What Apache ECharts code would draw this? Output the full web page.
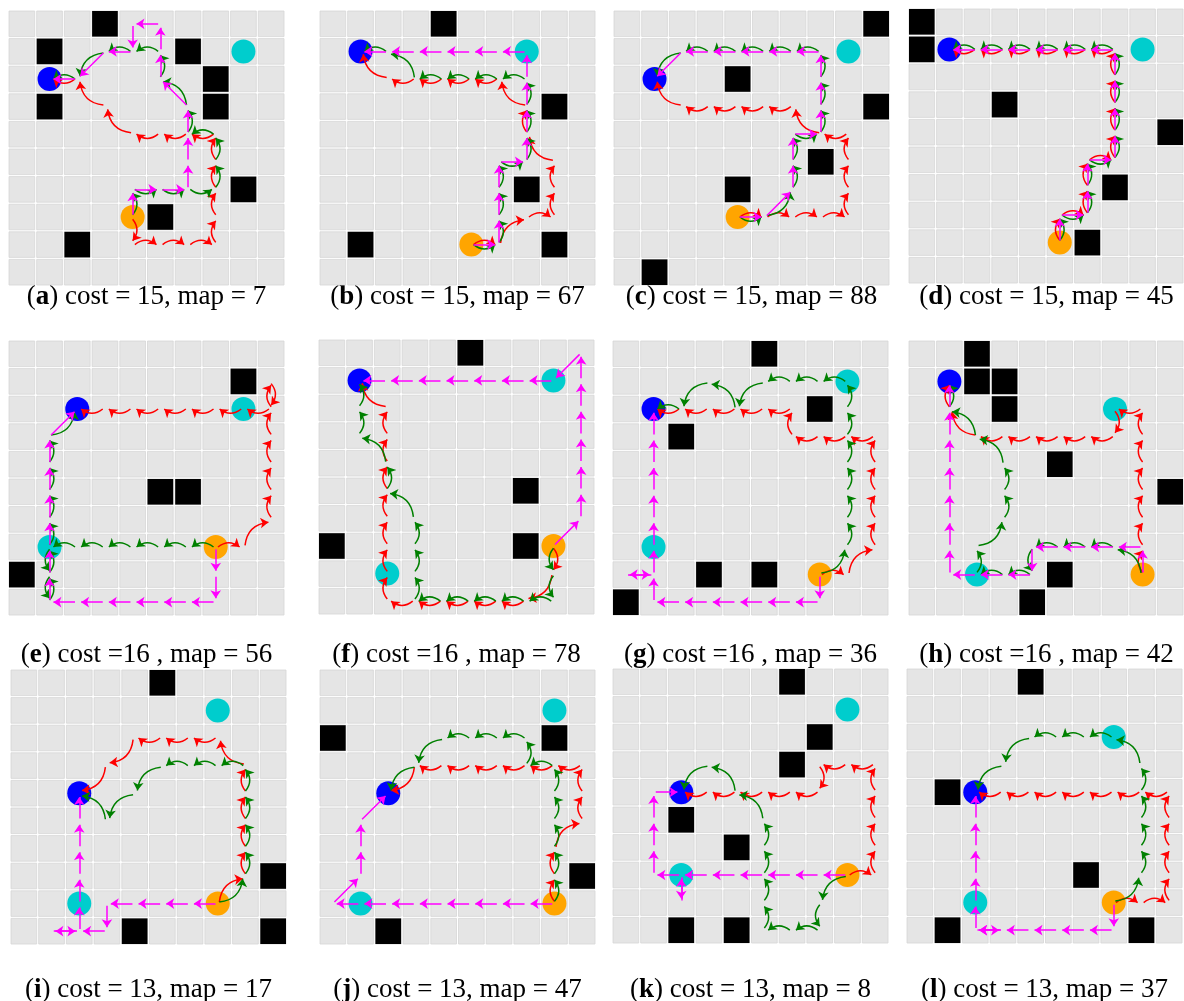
<!DOCTYPE html>
<html><head><meta charset="utf-8">
<script src="https://cdn.jsdelivr.net/npm/echarts@6/dist/echarts.min.js"></script>
<style>html,body{margin:0;background:#fff}#c{width:1184px;height:1001px}</style>
</head><body><div id="c"></div>
<script>
// ---------------- data ----------------
const panelIds = ['a','b','c','d','e','f','g','h','i','j','k','l'];
const captions = [
  'cost = 15, map = 7','cost = 15, map = 67','cost = 15, map = 88','cost = 15, map = 45',
  'cost =16 , map = 56','cost =16 , map = 78','cost =16 , map = 36','cost =16 , map = 42',
  'cost = 13, map = 17','cost = 13, map = 47','cost = 13, map = 8','cost = 13, map = 37'
];
// cells are [column, row], row 0 at the top
const obstacles = [
  [[3,0],[1,1],[6,1],[7,2],[7,3],[1,3],[8,6],[5,7],[2,8]],
  [[4,0],[8,3],[7,6],[1,8],[8,8]],
  [[9,0],[4,2],[9,3],[7,5],[4,6],[1,9]],
  [[0,0],[0,1],[3,3],[9,4],[7,6],[6,8]],
  [[8,1],[5,5],[6,5],[0,8]],
  [[5,0],[7,5],[0,7],[7,7]],
  [[5,0],[7,2],[2,3],[3,8],[5,8],[0,9]],
  [[2,0],[2,1],[3,1],[3,2],[5,4],[9,5],[5,8],[4,9]],
  [[5,0],[9,7],[4,9],[9,9]],
  [[0,2],[8,2],[9,7],[2,9]],
  [[6,0],[7,2],[6,3],[2,5],[4,6],[2,9],[4,9]],
  [[4,0],[1,4],[6,7],[1,9],[8,9]]
];
const blueCells = [[1,2],[1,1],[1,2],[1,1],[2,2],[1,1],[1,2],[1,1],[2,4],[2,4],[2,4],[2,4]];
const cyanCells = [
  [[8,1]],[[7,1]],[[8,1]],[[8,1]],
  [[8,2],[1,7]],[[8,1],[2,8]],[[8,1],[1,7]],[[7,2],[2,8]],
  [[7,1],[2,8]],[[8,1],[1,8]],[[8,1],[2,7]],[[7,2],[2,8]]
];
const orangeCells = [[4,7],[5,8],[4,7],[5,8],[7,7],[8,7],[7,8],[8,8],[7,8],[8,8],[8,7],[7,8]];

const magentaPaths = [
  [[4,7],[4,6],[5,6],[6,6],[6,5],[6,4],[6,3],[5,2],[5,1],[5,0],[4,0],[4,1],[3,1],[2,2],[1,2]],
  [[5,8],[6,8],[6,7],[6,6],[6,5],[7,5],[7,4],[7,3],[7,2],[7,1],[6,1],[5,1],[4,1],[3,1],[2,1],[1,1]],
  [[4,7],[5,7],[6,6],[6,5],[6,4],[7,4],[7,3],[7,2],[7,1],[6,1],[5,1],[4,1],[3,1],[2,1],[1,2]],
  [[5,8],[5,7],[6,7],[6,6],[6,5],[7,5],[7,4],[7,3],[7,2],[7,1],[6,1],[5,1],[4,1],[3,1],[2,1],[1,1]],
  [[7,7],[7,8],[7,9],[6,9],[5,9],[4,9],[3,9],[2,9],[1,9],[1,8],[1,7],[1,6],[1,5],[1,4],[1,3],[2,2]],
  [[8,7],[9,6],[9,5],[9,4],[9,3],[9,2],[9,1],[9,0],[8,1],[7,1],[6,1],[5,1],[4,1],[3,1],[2,1],[1,1]],
  [[7,8],[7,9],[6,9],[5,9],[4,9],[3,9],[2,9],[1,9],[1,8],[0,8],[1,8],[1,7],[1,6],[1,5],[1,4],[1,3],[1,2]],
  [[8,8],[8,7],[7,7],[6,7],[5,7],[4,7],[4,8],[3,8],[2,8],[1,8],[1,7],[1,6],[1,5],[1,4],[1,3],[1,2],[1,1]],
  [[7,8],[6,8],[5,8],[4,8],[3,8],[3,9],[2,9],[1,9],[2,9],[2,8],[2,7],[2,6],[2,5],[2,4]],
  [[8,8],[7,8],[6,8],[5,8],[4,8],[3,8],[2,8],[1,8],[0,8],[1,7],[1,6],[1,5],[2,4]],
  [[8,7],[7,7],[6,7],[5,7],[4,7],[3,7],[2,7],[2,8],[2,7],[1,7],[1,6],[1,5],[1,4],[2,4]],
  [[7,8],[7,9],[6,9],[5,9],[4,9],[3,9],[2,9],[3,9],[2,9],[2,8],[2,7],[2,6],[2,5],[2,4]]
];
const greenPaths = [
  [[4,7],[4,6],[5,6],[6,6],[7,6],[7,5],[7,4],[6,4],[6,3],[5,2],[5,1],[4,1],[3,1],[2,2],[1,2]],
  [[5,8],[6,8],[6,7],[6,6],[6,5],[7,5],[7,4],[7,3],[7,2],[6,2],[5,2],[4,2],[3,2],[2,1],[1,1]],
  [[4,7],[5,7],[6,6],[6,5],[6,4],[7,4],[7,3],[7,2],[7,1],[6,1],[5,1],[4,1],[3,1],[2,1],[1,2]],
  [[5,8],[5,7],[6,7],[6,6],[6,5],[7,5],[7,4],[7,3],[7,2],[7,1],[6,1],[5,1],[4,1],[3,1],[2,1],[1,1]],
  [[7,7],[6,7],[5,7],[4,7],[3,7],[2,7],[1,7],[1,8],[1,9],[1,8],[1,7],[1,6],[1,5],[1,4],[1,3],[2,2]],
  [[8,7],[8,8],[8,9],[7,9],[6,9],[5,9],[4,9],[3,9],[3,8],[3,7],[3,6],[2,5],[2,4],[1,3],[1,2],[1,1]],
  [[7,8],[8,7],[8,6],[8,5],[8,4],[8,3],[8,2],[8,1],[7,1],[6,1],[5,1],[4,2],[3,1],[2,2],[1,2]],
  [[8,8],[7,7],[6,7],[5,7],[4,7],[4,8],[3,8],[2,8],[2,7],[3,6],[3,5],[3,4],[2,3],[1,2],[1,1]],
  [[7,8],[8,7],[8,6],[8,5],[8,4],[8,3],[7,3],[6,3],[5,3],[4,4],[3,5],[2,4]],
  [[8,8],[8,7],[8,6],[8,5],[8,4],[8,3],[7,3],[7,2],[6,2],[5,2],[4,2],[3,3],[2,4]],
  [[8,7],[7,8],[7,9],[6,9],[5,9],[5,8],[5,7],[5,6],[5,5],[4,4],[3,3],[2,4]],
  [[7,8],[8,7],[8,6],[8,5],[8,4],[8,3],[7,2],[6,2],[5,2],[4,2],[3,3],[2,4]]
];
const redPaths = [
  [[4,7],[4,8],[5,8],[6,8],[7,8],[7,7],[7,6],[7,5],[7,4],[6,4],[5,4],[4,4],[3,3],[2,2],[1,2]],
  [[5,8],[6,8],[7,7],[8,7],[8,6],[8,5],[7,4],[7,3],[6,2],[5,2],[4,2],[3,2],[2,2],[1,1]],
  [[4,7],[5,7],[6,7],[7,7],[8,7],[8,6],[8,5],[8,4],[7,4],[6,3],[5,3],[4,3],[3,3],[2,3],[1,2]],
  [[5,8],[5,7],[6,7],[6,6],[6,5],[7,5],[7,4],[7,3],[7,2],[7,1],[6,1],[5,1],[4,1],[3,1],[2,1],[1,1]],
  [[7,7],[8,7],[9,6],[9,5],[9,4],[9,3],[9,2],[9,1],[9,2],[8,2],[7,2],[6,2],[5,2],[4,2],[3,2],[2,2]],
  [[8,7],[8,8],[7,9],[6,9],[5,9],[4,9],[3,9],[2,9],[2,8],[2,7],[2,6],[2,5],[2,4],[2,3],[2,2],[1,1]],
  [[7,8],[8,8],[9,7],[9,6],[9,5],[9,4],[9,3],[8,3],[7,3],[6,3],[6,2],[5,2],[4,2],[3,2],[2,2],[1,2]],
  [[8,8],[8,7],[8,6],[8,5],[8,4],[8,3],[8,2],[7,2],[7,3],[6,3],[5,3],[4,3],[3,3],[2,3],[1,2],[1,1]],
  [[7,8],[8,7],[8,6],[8,5],[8,4],[8,3],[7,2],[6,2],[5,2],[4,2],[3,3],[2,4]],
  [[8,8],[8,7],[8,6],[9,5],[9,4],[9,3],[8,3],[7,3],[6,3],[5,3],[4,3],[3,3],[2,4]],
  [[8,7],[9,7],[9,6],[9,5],[9,4],[9,3],[8,3],[7,3],[7,4],[6,4],[5,4],[4,4],[3,4],[2,4]],
  [[7,8],[8,8],[9,8],[9,7],[9,6],[9,5],[9,4],[8,4],[7,4],[6,4],[5,4],[4,4],[3,4],[2,4]]
];

// ---------------- layout / style ----------------
const panelLeft = [8,319,613,908, 8,318,612,908, 10,319,612,906];
const panelTop  = [10,10,10,8, 340,339,340,340, 669,669,668,668];
const panelW = 277, panelH = 276;
const captionY = [297, 655, 990];
const N = 10;

const chart = echarts.init(document.getElementById('c'), null, {renderer:'canvas'});
const grids = [], xAxes = [], yAxes = [], series = [], graphics = [];

function cellRect(fill, stroke) {
  return function (params, api) {
    const p = api.coord([api.value(0), api.value(1)]);
    const s = api.size([1, 1]);
    return {type:'rect', shape:{x:p[0]+1, y:p[1]+1, width:s[0]-2, height:s[1]-2},
            style:{fill:fill, stroke:stroke, lineWidth:stroke ? 0.8 : 0}};
  };
}
function arrows(path) {
  const out = [];
  for (let i = 0; i + 1 < path.length; i++) {
    const x1 = path[i][0] + 0.5, y1 = path[i][1] + 0.5;
    const x2 = path[i+1][0] + 0.5, y2 = path[i+1][1] + 0.5;
    const dx = x2 - x1, dy = y2 - y1, L = Math.hypot(dx, dy);
    const ux = dx / L, uy = dy / L;
    out.push({coords:[[x1 + ux*0.08, y1 + uy*0.08], [x2 - ux*0.14, y2 - uy*0.14]]});
  }
  return out;
}
const allCells = [];
for (let c = 0; c < N; c++) for (let r = 0; r < N; r++) allCells.push([c, r]);

panelIds.forEach((id, k) => {
  grids.push({left:panelLeft[k], top:panelTop[k], width:panelW, height:panelH, show:false});
  xAxes.push({gridIndex:k, type:'value', min:0, max:N, interval:1, show:false});
  yAxes.push({gridIndex:k, type:'value', min:0, max:N, interval:1, inverse:true, show:false});
  const ax = {xAxisIndex:k, yAxisIndex:k, silent:true, animation:false};
  series.push(Object.assign({type:'custom', renderItem:cellRect('#e5e5e5','#d6d6d6'), data:allCells, z:1}, ax));
  series.push(Object.assign({type:'custom', renderItem:cellRect('#000000', null), data:obstacles[k], z:2}, ax));
  const circ = (cells, color) => Object.assign({type:'scatter', symbol:'circle', symbolSize:24,
      itemStyle:{color:color, opacity:1}, data:cells.map(p => [p[0]+0.5, p[1]+0.5]), z:3}, ax);
  series.push(circ([blueCells[k]], '#0000ff'));
  series.push(circ(cyanCells[k], '#00cdcd'));
  series.push(circ([orangeCells[k]], '#ffa500'));
  const ln = (path, color, curv, z) => Object.assign({type:'lines', coordinateSystem:'cartesian2d',
      symbol:['none','arrow'], symbolSize:8,
      lineStyle:{color:color, width:1.5, opacity:1, curveness:curv},
      data:arrows(path), z:z}, ax);
  series.push(ln(redPaths[k], '#ff0000', 0.4, 4));
  series.push(ln(greenPaths[k], '#008000', -0.4, 5));
  series.push(ln(magentaPaths[k], '#ff00ff', 0, 6));
  graphics.push({type:'text', x:panelLeft[k] + panelW/2, y:captionY[Math.floor(k/4)],
    style:{text:'({b|' + id + '}) ' + captions[k], fontSize:27, fontFamily:'Liberation Serif',
      fill:'#000', align:'center', verticalAlign:'middle',
      rich:{b:{fontWeight:'bold', fontSize:27, fontFamily:'Liberation Serif', fill:'#000'}}}});
});

chart.setOption({animation:false, backgroundColor:'#ffffff', grid:grids, xAxis:xAxes, yAxis:yAxes,
  series:series, graphic:graphics});
</script></body></html>
